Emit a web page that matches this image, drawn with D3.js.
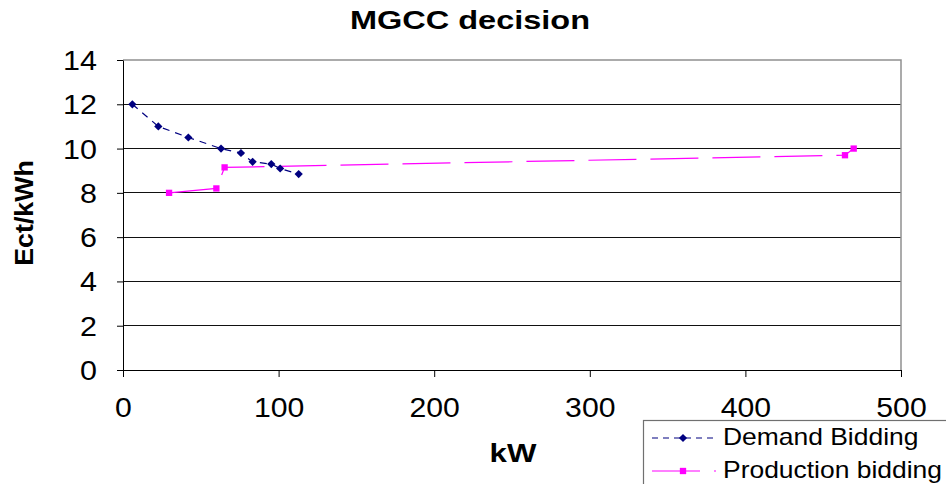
<!DOCTYPE html>
<html>
<head>
<meta charset="utf-8">
<title>MGCC decision</title>
<script src="https://cdn.jsdelivr.net/npm/d3@7"></script>
<style>
    body { margin: 0; background: #fff; overflow: hidden; }
    text { font-family: "Liberation Sans", Arial, sans-serif; fill: #000; }
</style>
</head>
<body>
<svg id="chart" width="946" height="484"></svg>
<script>
// data
var demandKW    = [6, 22.7, 42, 63, 75.8, 83.3, 95.3, 101, 112.9];
var demandPrice = [12, 11, 10.5, 10, 9.8, 9.4, 9.3, 9.1, 8.85];
var prodKW      = [29.6, 60, 65.3, 464, 469.6];
var prodPrice   = [8, 8.2, 9.15, 9.7, 10];
var xTicks = [0, 100, 200, 300, 400, 500];
var yTicks = [0, 2, 4, 6, 8, 10, 12, 14];
var seriesNames = ["Demand Bidding", "Production bidding"];

var svg = d3.select("#chart");

var margin = {left: 123, right: 45, top: 60, bottom: 114},
    width = 946 - margin.left - margin.right,
    height = 484 - margin.top - margin.bottom;

var x = d3.scaleLinear().domain([0, 500]).range([margin.left, margin.left + width]);
var y = d3.scaleLinear().domain([0, 14]).range([margin.top + height, margin.top]);

// text is a bit stretched sideways in the original
function stretchText(g, tx, ty, sx, str) {
    return g.append("text")
        .attr("transform", "translate(" + tx + "," + ty + ") scale(" + sx + ",1)")
        .text(str);
}

// gridlines
svg.append("g")
    .selectAll("line")
    .data(yTicks.filter(function(d) { return d > 0 && d < 14; }))
    .enter().append("line")
    .attr("x1", x(0)).attr("x2", x(500))
    .attr("y1", function(d) { return y(d); })
    .attr("y2", function(d) { return y(d); })
    .attr("stroke", "#111")
    .attr("stroke-width", 1)
    .attr("shape-rendering", "crispEdges");

// plot area border (top + right)
svg.append("path")
    .attr("d", "M" + x(0) + "," + y(14) + "H" + x(500) + "V" + y(0))
    .attr("fill", "none")
    .attr("stroke", "#909090")
    .attr("stroke-width", 1.5);

// y axis
var yAxis = svg.append("g")
    .attr("transform", "translate(" + x(0) + ",0)")
    .call(d3.axisLeft(y).tickValues(yTicks).tickSize(6).tickSizeOuter(0).tickFormat(""));
yAxis.selectAll("line, path").attr("stroke", "#000");
yAxis.selectAll(".tick").each(function(d) {
    var t = stretchText(d3.select(this), -26, 9.5, 1.13, d);
    t.attr("text-anchor", "end").style("font-size", "27px");
});

// x axis
var xAxis = svg.append("g")
    .attr("transform", "translate(0," + y(0) + ")")
    .call(d3.axisBottom(x).tickValues(xTicks).tickSize(7).tickSizeOuter(0).tickFormat(""));
xAxis.selectAll("line, path").attr("stroke", "#000");
xAxis.selectAll(".tick").each(function(d) {
    var t = stretchText(d3.select(this), 0, 47, 1.12, d);
    t.attr("text-anchor", "middle").style("font-size", "27px");
});

// titles
stretchText(svg, 470, 28.5, 1.3, "MGCC decision")
    .attr("text-anchor", "middle")
    .style("font-size", "25px").style("font-weight", "bold");

stretchText(svg, 513, 462, 1.2, "kW")
    .attr("text-anchor", "middle")
    .style("font-size", "26px").style("font-weight", "bold");

svg.append("text")
    .attr("transform", "translate(33,213) rotate(-90) scale(1.07,1)")
    .attr("text-anchor", "middle")
    .style("font-size", "25px").style("font-weight", "bold")
    .text("Ect/kWh");

// series
var demand = demandKW.map(function(d, i) { return {x: d, y: demandPrice[i]}; });
var prod = prodKW.map(function(d, i) { return {x: d, y: prodPrice[i]}; });

var line = d3.line()
    .x(function(d) { return x(d.x); })
    .y(function(d) { return y(d.y); });

svg.append("path")
    .datum(prod)
    .attr("d", line)
    .attr("fill", "none")
    .attr("stroke", "#ff00ff")
    .attr("stroke-width", 1.2)
    .attr("stroke-dasharray", "48,14");

svg.append("path")
    .datum(demand)
    .attr("d", line)
    .attr("fill", "none")
    .attr("stroke", "#000080")
    .attr("stroke-width", 1.2)
    .attr("stroke-dasharray", "7,6");

// excel-style diamond = square turned 45 degrees
var diamond = d3.symbol().type(d3.symbolSquare).size(34);
var square = d3.symbol().type(d3.symbolSquare).size(40);

svg.append("g").selectAll("path")
    .data(prod)
    .enter().append("path")
    .attr("d", square)
    .attr("transform", function(d) { return "translate(" + x(d.x) + "," + y(d.y) + ")"; })
    .attr("fill", "#ff00ff");

svg.append("g").selectAll("path")
    .data(demand)
    .enter().append("path")
    .attr("d", diamond)
    .attr("transform", function(d) { return "translate(" + x(d.x) + "," + y(d.y) + ") rotate(45)"; })
    .attr("fill", "#000080");

// legend
var legend = svg.append("g");
legend.append("rect")
    .attr("x", 643.5).attr("y", 420.5)
    .attr("width", 320).attr("height", 80)
    .attr("fill", "#fff")
    .attr("stroke", "#707070")
    .attr("stroke-width", 1.2);

var legendRows = [
    {name: seriesNames[0], color: "#000080", dash: "6,5", mark: diamond, rot: 45, y: 438, base: 445},
    {name: seriesNames[1], color: "#ff00ff", dash: "48,14", mark: square, rot: 0, y: 471, base: 478}
];
legendRows.forEach(function(r) {
    legend.append("line")
        .attr("x1", 652).attr("x2", 716)
        .attr("y1", r.y).attr("y2", r.y)
        .attr("stroke", r.color)
        .attr("stroke-width", 1.2)
        .attr("stroke-dasharray", r.dash);
    legend.append("path")
        .attr("d", r.mark)
        .attr("transform", "translate(683," + r.y + ") rotate(" + r.rot + ")")
        .attr("fill", r.color);
    stretchText(legend, 723, r.base, 1.15, r.name)
        .style("font-size", "23px");
});
</script>
</body>
</html>
